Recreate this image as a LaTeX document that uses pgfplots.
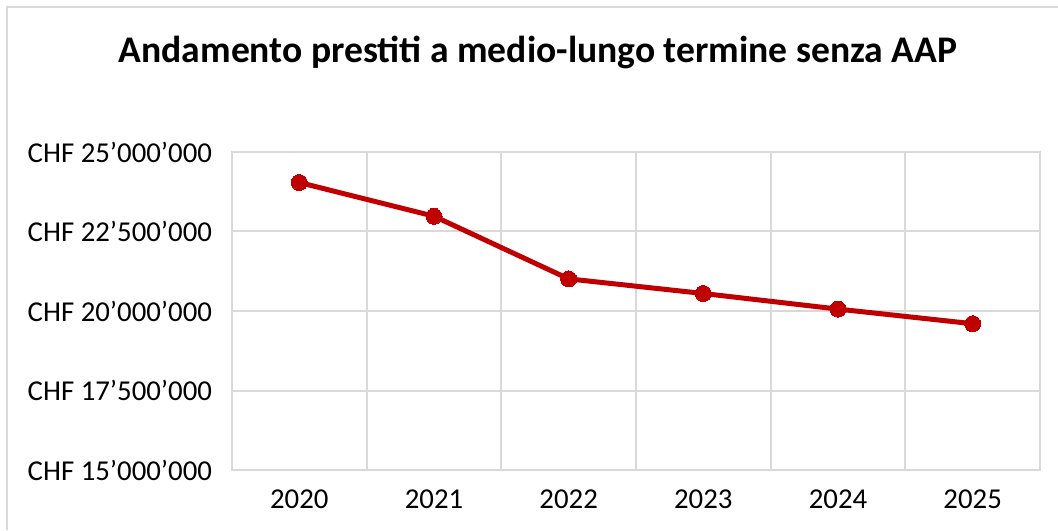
\documentclass[border=0pt]{standalone}
\usepackage{fontspec}
\setmainfont{Carlito}
\usepackage{pgfplots}
\pgfplotsset{compat=1.18}
\definecolor{linered}{HTML}{C00000}
\definecolor{gridgray}{HTML}{D9D9D9}
\begin{document}
\begin{tikzpicture}
\path[use as bounding box] (0,0) rectangle (529pt,265pt);
\draw[gridgray, line width=0.9pt] (3.5pt,0) -- (3.5pt,261.5pt) -- (529pt,261.5pt);
\node[font=\fontsize{18.8}{22}\selectfont\bfseries] at (269pt,239pt) {Andamento prestiti a medio-lungo termine senza AAP};
\begin{axis}[
  at={(116pt,30pt)}, anchor=south west,
  scale only axis, width=404pt, height=159pt,
  xmin=-0.5, xmax=5.5, ymin=15000000, ymax=25000000,
  xtick={0,1,2,3,4,5},
  xticklabels={\textnormal{2020},\textnormal{2021},\textnormal{2022},\textnormal{2023},\textnormal{2024},\textnormal{2025}},
  minor xtick={-0.5,0.5,1.5,2.5,3.5,4.5,5.5},
  xminorgrids=true,
  ytick={15000000,17500000,20000000,22500000,25000000},
  yticklabels={\textnormal{CHF 15’000’000},\textnormal{CHF 17’500’000},\textnormal{CHF 20’000’000},\textnormal{CHF 22’500’000},\textnormal{CHF 25’000’000}},
  ymajorgrids=true,
  major tick length=0pt, minor tick length=0pt,
  axis line style={gridgray, line width=1pt},
  grid style={gridgray, line width=1pt},
  minor grid style={gridgray, line width=1pt},
  tick label style={font=\fontsize{14.4}{17}\selectfont, text=black},
  yticklabel style={xshift=-6.5pt},
  xticklabel style={yshift=-6.5pt},
  scaled y ticks=false,
  clip=false,
]
\addplot[linered, line width=2.5pt, mark=*, mark size=4pt, mark options={fill=linered, draw=linered, line width=0pt}] coordinates {
 (0,24040000) (1,22980000) (2,21010000) (3,20550000) (4,20060000) (5,19600000)
};
\end{axis}
\end{tikzpicture}
\end{document}
